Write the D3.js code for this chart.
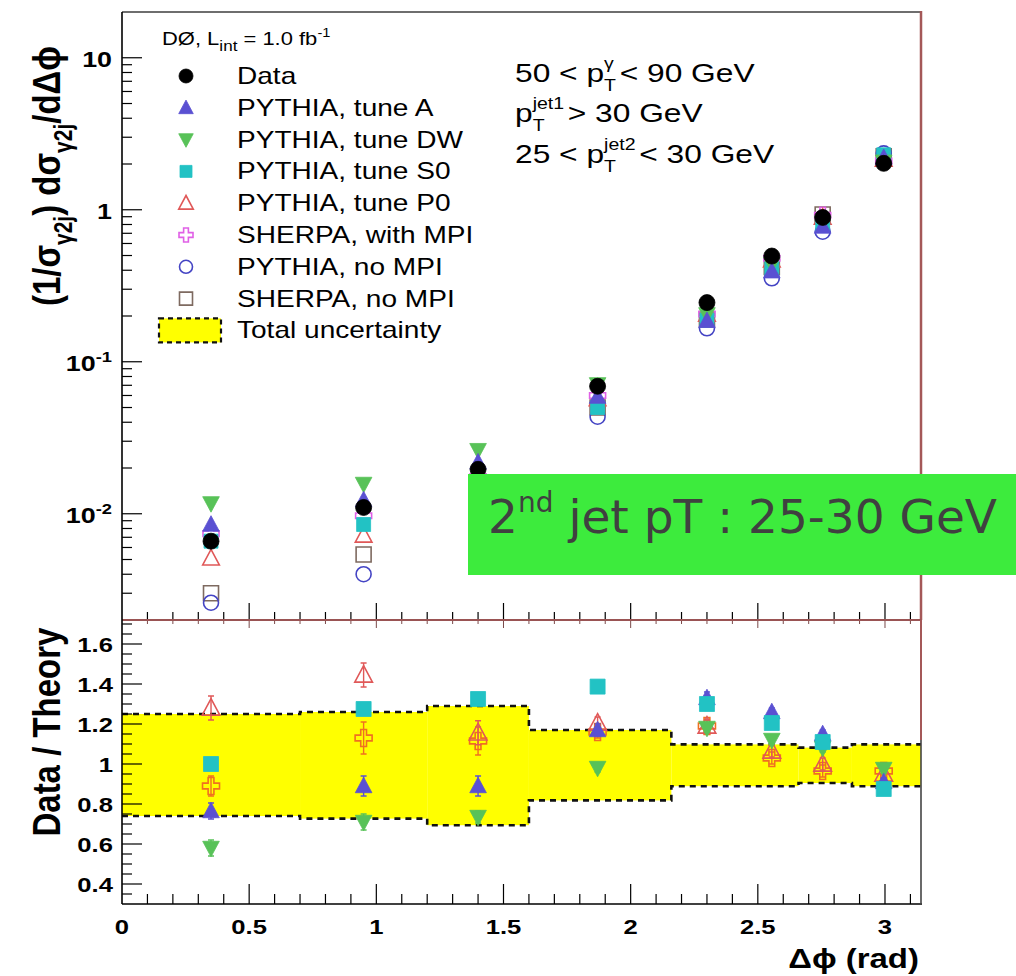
<!DOCTYPE html>
<html>
<head>
<meta charset="utf-8">
<script src="https://cdn.jsdelivr.net/npm/d3@7"></script>
<style>
  html, body { margin: 0; padding: 0; background: #ffffff; }
  svg { display: block; }
  text { white-space: pre; }
</style>
</head>
<body>
<svg id="chart" width="1016" height="976"></svg>
<script>
// ---------------------------------------------------------------
// Photon + 2 jets, azimuthal angle between pT-balance vectors
// 50 < pT(gamma) < 90 GeV, pT(jet1) > 30 GeV, 25 < pT(jet2) < 30 GeV
// ---------------------------------------------------------------

// Δφ bin centres (rad)
const binCenters = [0.35, 0.95, 1.40, 1.87, 2.30, 2.555, 2.755, 2.995];

// normalised cross section (1/σ) dσ/dΔφ
const dataXsec    = [0.0066, 0.0110, 0.0196, 0.069, 0.245, 0.496, 0.89, 2.02];
const pythiaA     = [0.0085, 0.0123, 0.0218, 0.059, 0.186, 0.394, 0.776, 2.20];
const pythiaDW    = [0.0117, 0.0157, 0.0262, 0.071, 0.205, 0.440, 0.82, 2.07];
const pythiaS0    = [0.0066, 0.0085, 0.0148, 0.050, 0.188, 0.410, 0.80, 2.30];
const pythiaP0    = [0.0051, 0.0072, 0.0170, 0.057, 0.205, 0.465, 0.89, 2.14];
const sherpaMPI   = [0.0074, 0.0097, 0.0176, 0.060, 0.206, 0.480, 0.92, 2.09];
const pythiaNoMPI = [0.0026, 0.0040, 0.0125, 0.0435, 0.166, 0.354, 0.717, 2.35];
const sherpaNoMPI = [0.0030, 0.0054, 0.0140, 0.050, 0.190, 0.420, 0.93, 2.25];

// Data / Theory ratios
const ratioA      = [0.765, 0.89, 0.89, 1.17, 1.33, 1.26, 1.15, 0.91];
const ratioDW     = [0.58, 0.71, 0.735, 0.98, 1.18, 1.12, 1.08, 0.975];
const ratioS0     = [1.00, 1.275, 1.325, 1.387, 1.30, 1.205, 1.11, 0.875];
const ratioP0     = [1.28, 1.445, 1.156, 1.205, 1.19, 1.065, 1.00, 0.95];
const ratioSherpa = [0.89, 1.13, 1.115, 1.16, 1.19, 1.03, 0.965, 0.965];

// ratio uncertainties
const errA      = [0.04, 0.05, 0.05, 0.03, 0.03, 0.02, 0.02, 0.02];
const errDW     = [0.04, 0.04, 0.03, 0.02, 0.02, 0.02, 0.02, 0.02];
const errS0     = [0.03, 0.03, 0.03, 0.02, 0.02, 0.02, 0.02, 0.02];
const errP0     = [0.06, 0.06, 0.06, 0.03, 0.03, 0.03, 0.03, 0.02];
const errSherpa = [0.05, 0.08, 0.07, 0.03, 0.03, 0.03, 0.03, 0.02];

// total uncertainty band on the ratio
const bandEdges = [0, 0.70, 1.20, 1.60, 2.16, 2.66, 2.87, Math.PI];
const bandLow   = [0.74, 0.727, 0.694, 0.818, 0.889, 0.905, 0.889];
const bandHigh  = [1.25, 1.26, 1.29, 1.17, 1.098, 1.082, 1.098];

// axis tick labels
const xTickValues  = [0, 0.5, 1, 1.5, 2, 2.5, 3];
const xTickLabels  = ["0", "0.5", "1", "1.5", "2", "2.5", "3"];
const logTickValues = [0.01, 0.1, 1, 10];
const ratioTickValues = [0.4, 0.6, 0.8, 1.0, 1.2, 1.4, 1.6];
const ratioTickLabels = ["0.4", "0.6", "0.8", "1", "1.2", "1.4", "1.6"];

// legend entries
const legendLabels = ["Data", "PYTHIA, tune A", "PYTHIA, tune DW", "PYTHIA, tune S0",
  "PYTHIA, tune P0", "SHERPA, with MPI", "PYTHIA, no MPI", "SHERPA, no MPI"];

// ---------------------------------------------------------------
const FONT = "'Liberation Sans', Arial, Helvetica, sans-serif";
const SX = 1.22;   // horizontal text stretch of the figure

const svg = d3.select("#chart");
svg.append("rect").attr("width", 1016).attr("height", 976).attr("fill", "#ffffff");

const x = d3.scaleLinear().domain([0, Math.PI]).range([122, 921]);
const yTop = d3.scaleLog().domain([0.002, 20]).range([620, 12]);
const yBot = d3.scaleLinear().domain([0.3, 1.72]).range([904, 620]);

// text made of consecutive pieces (with sub/superscripts, stacked pairs)
function richText(parent, px, py, parts, o = {}) {
  const size = o.size || 20, weight = o.weight || "normal";
  const fill = o.fill || "#000", family = o.family || FONT;
  const sx = o.sx === undefined ? SX : o.sx;
  const g = parent.append("g");
  const inner = g.append("g");
  let cx = 0;
  parts.forEach(p => {
    const items = p.stack ? p.stack : [p];
    let w = 0;
    items.forEach(it => {
      const t = inner.append("text")
        .attr("x", cx).attr("y", it.dy || 0)
        .attr("font-size", it.size || size)
        .attr("font-weight", it.weight || weight)
        .attr("font-family", family)
        .attr("fill", fill)
        .text(it.t);
      w = Math.max(w, t.node().getComputedTextLength());
    });
    cx += w + (p.gap || 0);
  });
  const anchor = o.anchor || "start";
  const off = anchor === "end" ? -cx : anchor === "middle" ? -cx / 2 : 0;
  inner.attr("transform", `translate(${off},0)`);
  if (o.rotate) g.attr("transform", `translate(${px},${py}) rotate(${o.rotate}) scale(1,${sx})`);
  else g.attr("transform", `translate(${px},${py}) scale(${sx},1)`);
  return g;
}

// marker shapes
const shapes = {
  circle: s => d3.arc()({innerRadius: 0, outerRadius: s / 2, startAngle: 0, endAngle: 2 * Math.PI}),
  triUp: s => `M0,${-s * 0.55}L${s * 0.52},${s * 0.42}L${-s * 0.52},${s * 0.42}Z`,
  triDown: s => `M0,${s * 0.55}L${s * 0.52},${-s * 0.42}L${-s * 0.52},${-s * 0.42}Z`,
  square: s => `M${-s / 2},${-s / 2}H${s / 2}V${s / 2}H${-s / 2}Z`,
  cross: s => {
    const a = s * 0.17, L = s * 0.5;
    return `M${-a},${-L}H${a}V${-a}H${L}V${a}H${a}V${L}H${-a}V${a}H${-L}V${-a}H${-a}Z`;
  }
};

function marker(parent, cx, cy, st, size) {
  parent.append("path")
    .attr("d", shapes[st.shape](size || st.size))
    .attr("transform", `translate(${cx},${cy})`)
    .attr("fill", st.open ? "none" : st.color)
    .attr("stroke", st.color)
    .attr("stroke-width", st.open ? 1.6 : 0.8);
}

// series styles (main panel)
const styles = {
  data:   {shape: "circle",  color: "#000000", open: false, size: 16},
  A:      {shape: "triUp",   color: "#5a50d2", open: false, size: 16},
  DW:     {shape: "triDown", color: "#58c258", open: false, size: 16},
  S0:     {shape: "square",  color: "#22c2c4", open: false, size: 14},
  P0:     {shape: "triUp",   color: "#e05858", open: true,  size: 16},
  sMPI:   {shape: "cross",   color: "#e060e6", open: true,  size: 16},
  pNo:    {shape: "circle",  color: "#4444c4", open: true,  size: 15},
  sNo:    {shape: "square",  color: "#7e6a60", open: true,  size: 15}
};

// ---------------- top panel ----------------
const topPanel = svg.append("g");

// series drawn back to front
const mainSeries = [
  [sherpaNoMPI, styles.sNo],
  [pythiaNoMPI, styles.pNo],
  [sherpaMPI, styles.sMPI],
  [pythiaP0, styles.P0],
  [pythiaS0, styles.S0],
  [pythiaDW, styles.DW],
  [pythiaA, styles.A],
  [dataXsec, styles.data]
];
mainSeries.forEach(([vals, st]) => {
  vals.forEach((v, i) => marker(topPanel, x(binCenters[i]), yTop(v), st));
});

// ---------------- ratio panel ----------------
const ratioPanel = svg.append("g");

// yellow band
bandLow.forEach((lo, i) => {
  ratioPanel.append("rect")
    .attr("x", x(bandEdges[i])).attr("width", x(bandEdges[i + 1]) - x(bandEdges[i]))
    .attr("y", yBot(bandHigh[i])).attr("height", yBot(lo) - yBot(bandHigh[i]))
    .attr("fill", "#ffff00");
});
function stepPath(vals) {
  let d = `M${x(bandEdges[0])},${yBot(vals[0])}`;
  vals.forEach((v, i) => {
    if (i > 0) d += `V${yBot(v)}`;
    d += `H${x(bandEdges[i + 1])}`;
  });
  return d;
}
[bandHigh, bandLow].forEach(vals => {
  ratioPanel.append("path").attr("d", stepPath(vals))
    .attr("fill", "none").attr("stroke", "#111").attr("stroke-width", 2.6)
    .attr("stroke-dasharray", "6,5");
});

const ratioStyles = {
  A:    {shape: "triUp",   color: "#5a50d2", open: false, size: 16},
  DW:   {shape: "triDown", color: "#58c258", open: false, size: 16},
  S0:   {shape: "square",  color: "#22c2c4", open: false, size: 15},
  P0:   {shape: "triUp",   color: "#e05858", open: true,  size: 17},
  sMPI: {shape: "cross",   color: "#f07020", open: true,  size: 17}
};
const ratioSeries = [
  [ratioSherpa, errSherpa, ratioStyles.sMPI],
  [ratioP0, errP0, ratioStyles.P0],
  [ratioDW, errDW, ratioStyles.DW],
  [ratioA, errA, ratioStyles.A],
  [ratioS0, errS0, ratioStyles.S0]
];
ratioSeries.forEach(([vals, errs, st]) => {
  vals.forEach((v, i) => {
    const cx = x(binCenters[i]);
    const y1 = yBot(v + errs[i]), y2 = yBot(v - errs[i]);
    ratioPanel.append("path")
      .attr("d", `M${cx},${y1}V${y2}M${cx - 3},${y1}H${cx + 3}M${cx - 3},${y2}H${cx + 3}`)
      .attr("stroke", st.color).attr("stroke-width", 1.4).attr("fill", "none");
    marker(ratioPanel, cx, yBot(v), st);
  });
});

// ---------------- axes & frame ----------------
const ax = svg.append("g").attr("stroke", "#000").attr("fill", "none");

// x ticks (0.1 minor, 0.5 major)
const xMinor = d3.range(1, 32).map(k => k / 10);
xMinor.forEach(v => {
  const major = Math.abs(v * 2 - Math.round(v * 2)) < 1e-6;
  const px = x(v);
  ax.append("line").attr("x1", px).attr("x2", px)
    .attr("y1", 904).attr("y2", 904 - (major ? 20 : 10)).attr("stroke-width", 1.2);
  ax.append("line").attr("x1", px).attr("x2", px)
    .attr("y1", 620).attr("y2", 620 - (major ? 17 : 8)).attr("stroke-width", 1.2);
  ax.append("line").attr("x1", px).attr("x2", px)
    .attr("y1", 620).attr("y2", 620 + (major ? 8 : 4)).attr("stroke-width", 1).attr("stroke", "#7a4a4a");
});

// log y ticks (top panel)
const logMinor = [];
[0.001, 0.01, 0.1, 1, 10].forEach(dec => {
  for (let k = 1; k <= 9; k++) {
    const v = dec * k;
    if (v >= 0.002 && v <= 20) logMinor.push({v, major: k === 1});
  }
});
logMinor.forEach(t => {
  ax.append("line").attr("x1", 122).attr("x2", 122 + (t.major ? 20 : 10))
    .attr("y1", yTop(t.v)).attr("y2", yTop(t.v)).attr("stroke-width", 1.2);
});

// linear y ticks (ratio panel), minor every 0.05
d3.range(7, 35).map(k => k * 0.05).forEach(v => {
  const major = Math.abs(v * 5 - Math.round(v * 5)) < 1e-6;
  ax.append("line").attr("x1", 122).attr("x2", 122 + (major ? 20 : 10))
    .attr("y1", yBot(v)).attr("y2", yBot(v)).attr("stroke-width", 1.2);
});

// frame
ax.append("line").attr("x1", 122).attr("x2", 921).attr("y1", 12).attr("y2", 12)
  .attr("stroke", "#6e6e6e").attr("stroke-width", 2);
ax.append("line").attr("x1", 921).attr("x2", 921).attr("y1", 11).attr("y2", 620)
  .attr("stroke", "#a45858").attr("stroke-width", 2.5);
ax.append("line").attr("x1", 122).attr("x2", 921).attr("y1", 620).attr("y2", 620)
  .attr("stroke", "#9a5454").attr("stroke-width", 2);
ax.append("line").attr("x1", 122).attr("x2", 122).attr("y1", 12).attr("y2", 904)
  .attr("stroke-width", 1.6);
ax.append("line").attr("x1", 122).attr("x2", 922).attr("y1", 904).attr("y2", 904)
  .attr("stroke-width", 1.6);
ax.append("line").attr("x1", 921).attr("x2", 921).attr("y1", 620).attr("y2", 740)
  .attr("stroke", "#a45858").attr("stroke-width", 2);
ax.append("line").attr("x1", 921).attr("x2", 921).attr("y1", 740).attr("y2", 904)
  .attr("stroke", "#444").attr("stroke-width", 1.6);

// tick labels
const lab = svg.append("g");
xTickValues.forEach((v, i) => {
  richText(lab, x(v), 934, [{t: xTickLabels[i]}], {size: 21, weight: "bold", anchor: "middle"});
});
ratioTickValues.forEach((v, i) => {
  richText(lab, 113, yBot(v) + 8, [{t: ratioTickLabels[i]}], {size: 21, weight: "bold", anchor: "end"});
});
const logLabels = [
  [{t: "10"}, {t: "-2", size: 15, dy: -9}],
  [{t: "10"}, {t: "-1", size: 15, dy: -9}],
  [{t: "1"}],
  [{t: "10"}]
];
logTickValues.forEach((v, i) => {
  richText(lab, 112, yTop(v) + 9, logLabels[i], {size: 22, weight: "bold", anchor: "end"});
});

// axis titles
richText(lab, 919, 968, [{t: "Δϕ (rad)"}], {size: 27, weight: "bold", anchor: "end"});
richText(lab, 60, 176, [
  {t: "(1/σ"}, {t: "γ2j", size: 21, dy: 10}, {t: ") dσ"}, {t: "γ2j", size: 21, dy: 10}, {t: "/dΔϕ"}
], {size: 33, weight: "bold", anchor: "middle", rotate: -90, sx: 1.2});
richText(lab, 60, 732, [{t: "Data / Theory"}], {size: 33, weight: "bold", anchor: "middle", rotate: -90, sx: 1.2});

// ---------------- legend ----------------
const leg = svg.append("g");
richText(leg, 162, 45, [
  {t: "DØ, L"}, {t: "int", size: 14, dy: 6}, {t: " = 1.0 fb"}, {t: "-1", size: 12, dy: -8}
], {size: 18});
const legStyles = [styles.data, styles.A, styles.DW, styles.S0, styles.P0, styles.sMPI, styles.pNo, styles.sNo];
const rowY = i => 76 + i * 31.8;
legendLabels.forEach((name, i) => {
  marker(leg, 186, rowY(i), legStyles[i], legStyles[i].size - 2);
  richText(leg, 237, rowY(i) + 8, [{t: name}], {size: 23});
});
const ty = rowY(8);
leg.append("rect").attr("x", 159).attr("y", ty - 12).attr("width", 62).attr("height", 24)
  .attr("fill", "#ffff00").attr("stroke", "#111").attr("stroke-width", 2.2)
  .attr("stroke-dasharray", "5,4");
richText(leg, 237, ty + 8, [{t: "Total uncertainty"}], {size: 23});

// kinematic selection
richText(leg, 515, 82, [
  {t: "50 < p"}, {stack: [{t: "γ", size: 16, dy: -13}, {t: "T", size: 16, dy: 9}], gap: 3}, {t: "< 90 GeV"}
], {size: 26});
richText(leg, 515, 122, [
  {t: "p"}, {stack: [{t: "jet1", size: 16, dy: -13}, {t: "T", size: 16, dy: 9}], gap: 3}, {t: "> 30 GeV"}
], {size: 26});
richText(leg, 515, 163, [
  {t: "25 < p"}, {stack: [{t: "jet2", size: 16, dy: -13}, {t: "T", size: 16, dy: 9}], gap: 3}, {t: "< 30 GeV"}
], {size: 26});

// ---------------- jet-pT label box ----------------
const box = svg.append("g");
box.append("rect").attr("x", 468).attr("y", 474).attr("width", 548).attr("height", 101)
  .attr("fill", "#3deb3d");
richText(box, 488, 533, [
  {t: "2"}, {t: "nd", size: 28, dy: -21}, {t: " jet pT : 25-30 GeV"}
], {size: 47, fill: "#404040", family: "'DejaVu Sans', sans-serif", sx: 1});
</script>
</body>
</html>
